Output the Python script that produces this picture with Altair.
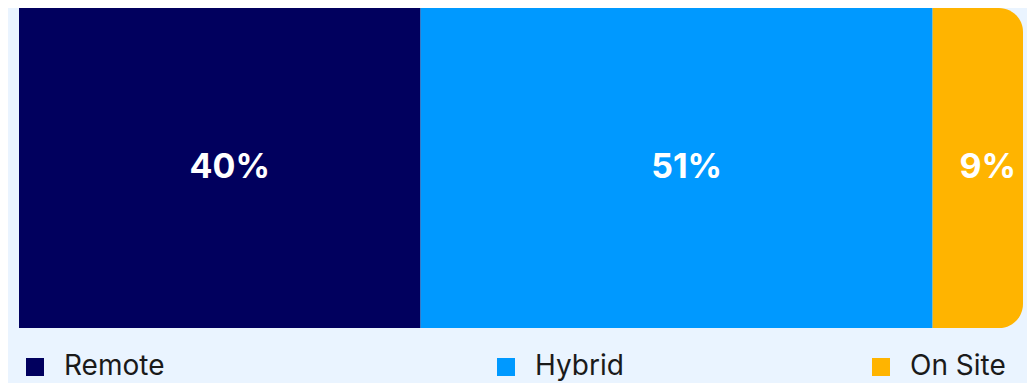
import altair as alt
import pandas as pd

categories = ["Remote", "Hybrid", "On Site"]
shares = [40, 51, 9]
colors = ["#01005E", "#0099FF", "#FFB400"]
order = [0, 1, 2]

df = pd.DataFrame({"mode": categories, "share": shares, "order": order, "grp": ["all"] * 3})

pad_blank = "\u2800" * 4
label_expr = f"datum.label == 'Remote' ? 'Remote{pad_blank}' : datum.label"

color = alt.Color(
    "mode:N",
    scale=alt.Scale(domain=categories, range=colors),
    legend=alt.Legend(
        title=None,
        orient="none",
        legendX=2,
        legendY=345,
        direction="horizontal",
        columns=3,
        columnPadding=243,
        padding=0,
        symbolType="square",
        symbolSize=324,
        symbolStrokeWidth=0,
        labelFont="Inter",
        labelFontSize=28,
        labelColor="#1a1a1a",
        labelOffset=15,
        labelLimit=500,
        labelExpr=label_expr,
    ),
)

base = (
    alt.Chart(df)
    .transform_stack(stack="share", as_=["start", "end"], groupby=["grp"], sort=[alt.SortField("order")])
    .transform_calculate(mid="(datum.start + datum.end) / 2", label="datum.share + '%'")
)

xs = alt.X("start:Q", axis=None, scale=alt.Scale(domain=[0, 100], nice=False, zero=True))
ys = alt.Y("grp:N", axis=None, scale=alt.Scale(paddingInner=0, paddingOuter=0))

bars_plain = base.transform_filter("datum.mode != 'On Site'").mark_bar().encode(
    x=xs, x2="end:Q", y=ys, color=color
)
bars_end = base.transform_filter("datum.mode == 'On Site'").mark_bar(
    cornerRadiusTopRight=24, cornerRadiusBottomRight=24
).encode(x=xs, x2="end:Q", y=ys, color=color)

labels = base.mark_text(
    color="white", font="Inter", fontSize=34, fontWeight="bold", baseline="middle", align="center", dx=10
).encode(
    x=alt.X("mid:Q", axis=None, scale=alt.Scale(domain=[0, 100], nice=False, zero=True)),
    y=ys,
    text="label:N",
)

chart = (
    alt.layer(bars_plain, bars_end, labels)
    .properties(
        width=1004,
        height=320,
        autosize=alt.AutoSizeParams(type="none"),
        padding={"left": 11, "top": 0, "right": 4, "bottom": 55},
        background="#EAF4FF",
    )
    .configure_view(stroke=None)
)

chart.save("out.html", embed_options={"renderer": "svg", "actions": False})
